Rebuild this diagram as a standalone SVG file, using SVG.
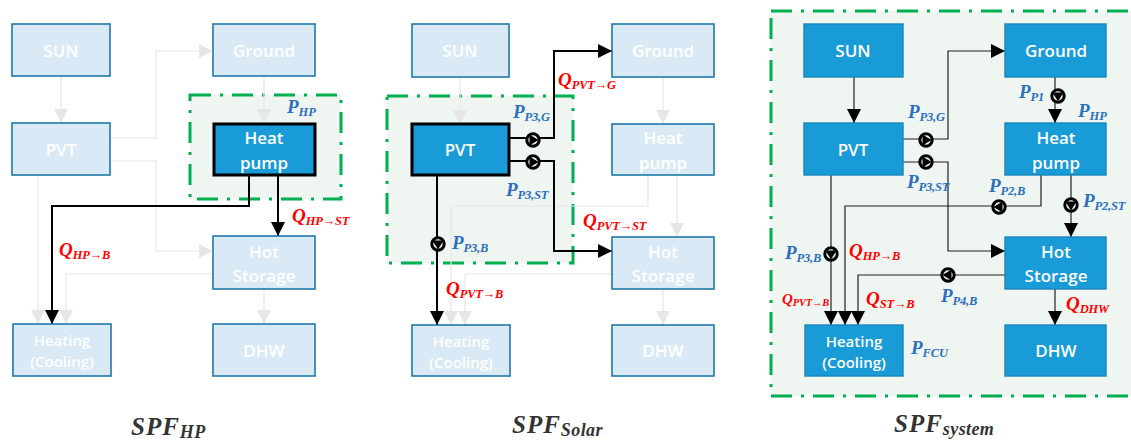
<svg xmlns="http://www.w3.org/2000/svg" width="1131" height="444" viewBox="0 0 1131 444">
<style>
text{font-family:"Open Sans","Noto Sans",sans-serif}
.n text{font-size:17px;font-weight:600;fill:#fff;text-anchor:middle}
.f rect{fill:#d9eaf6;stroke:#1f78a8;stroke-width:1.6}
.a rect{fill:#189bd7;stroke:#1a85bb;stroke-width:1.4}
.k rect{fill:#189bd7;stroke:#000;stroke-width:3}
.zone{fill:#eff5f1;stroke:#00b050;stroke-width:3;stroke-dasharray:21 9 3 9}
.g,.b,.t{fill:none}
.g{stroke:#e6e6e6;stroke-width:1.2;marker-end:url(#mg)}
.b{stroke:#000;stroke-width:2;marker-end:url(#mb)}
.t{stroke:#222;stroke-width:1.2;marker-end:url(#mb)}
.m text{font-family:"Liberation Serif",serif;font-weight:700;font-style:italic}
.p{fill:#2a6fc0;font-size:19px}
.q{fill:#f00;font-size:19px}
.s{font-size:12.5px;letter-spacing:-.2px}
.ttl{fill:#333;font-size:25px;letter-spacing:1px}
.ttl .s{font-size:18px;letter-spacing:.4px}
</style>
<defs>
<marker id="mg" markerUnits="userSpaceOnUse" markerWidth="15" markerHeight="15" refX="14" refY="7.5" orient="auto"><path d="M0 .5L14 7.5L0 14.5Z" fill="#e6e6e6"/></marker>
<marker id="mb" markerUnits="userSpaceOnUse" markerWidth="15" markerHeight="15" refX="14" refY="7.5" orient="auto"><path d="M0 .5L14 7.5L0 14.5Z" fill="#000"/></marker>
<g id="pump"><circle r="6.2" fill="#f2f2f2" stroke="#000" stroke-width="3"/><path d="M-3.5 -5.5L5.5 0L-3.5 5.5Z" fill="#000"/></g>
</defs>

<rect class="zone" x="190" y="95" width="151" height="104"/>
<rect class="zone" x="387" y="96" width="186" height="167"/>
<rect class="zone" x="771" y="11" width="364" height="385"/>

<g id="connectors">
<path class="g" d="M61 76V123"/>
<path class="g" d="M110 138H156V51H213"/>
<path class="g" d="M110 161H156V251H213"/>
<path class="g" d="M38 175V324"/>
<path class="g" d="M213 274H66V324"/>
<path class="g" d="M264 76V123"/>
<path class="g" d="M264 289V324"/>
<path class="b" d="M249 175V206H52V324"/>
<path class="b" d="M278 175V236"/>

<path class="g" d="M460 77V124"/>
<path class="g" d="M663 77V124"/>
<path class="g" d="M677 175V237"/>
<path class="g" d="M648 175V206H451V325"/>
<path class="g" d="M612 274H465V325"/>
<path class="g" d="M663 289V325"/>
<path class="b" d="M509 138H554V51H612"/>
<path class="b" d="M509 161H554V251H612"/>
<path class="b" d="M437 175V325"/>

<path class="t" d="M854 77V123"/>
<path class="t" d="M903 139H948V51H1005"/>
<path class="t" d="M903 162H948V251H1005"/>
<path class="t" d="M831 175V325"/>
<path class="t" d="M1041 175V206H845V325"/>
<path class="t" d="M1071 175V237"/>
<path class="t" d="M1055 77V123"/>
<path class="t" d="M1005 275H858V325"/>
<path class="t" d="M1055 289V325"/>

<use href="#pump" transform="translate(533 140)"/>
<use href="#pump" transform="translate(533 162)"/>
<use href="#pump" transform="translate(438 244) rotate(90)"/>
<use href="#pump" transform="translate(926 140)"/>
<use href="#pump" transform="translate(926 162)"/>
<use href="#pump" transform="translate(1058 96) rotate(90)"/>
<use href="#pump" transform="translate(1071 205) rotate(90)"/>
<use href="#pump" transform="translate(999 207) rotate(180)"/>
<use href="#pump" transform="translate(948 275) rotate(180)"/>
<use href="#pump" transform="translate(831 254) rotate(90)"/>
</g>

<g id="hp-sun" class="n f"><rect x="12" y="24" width="98" height="52"/><text x="61" y="57">SUN</text></g>
<g id="hp-ground" class="n f"><rect x="213" y="24" width="102" height="52"/><text x="264" y="57">Ground</text></g>
<g id="hp-pvt" class="n f"><rect x="12" y="123" width="98" height="52"/><text x="61" y="156">PVT</text></g>
<g id="hp-heatpump" class="n k"><rect x="214" y="124" width="101" height="51"/><text x="264" y="144">Heat</text><text x="264" y="169">pump</text></g>
<g id="hp-storage" class="n f"><rect x="213" y="236" width="102" height="53"/><text x="264" y="258">Hot</text><text x="264" y="282">Storage</text></g>
<g id="hp-heating" class="n f"><rect x="13" y="324" width="98" height="52"/><text x="62" y="346" style="font-size:15px">Heating</text><text x="62" y="367" style="font-size:15px">(Cooling)</text></g>
<g id="hp-dhw" class="n f"><rect x="213" y="324" width="102" height="52"/><text x="264" y="357">DHW</text></g>

<g id="solar-sun" class="n f"><rect x="412" y="24" width="97" height="53"/><text x="460" y="57">SUN</text></g>
<g id="solar-ground" class="n f"><rect x="612" y="24" width="102" height="53"/><text x="663" y="57">Ground</text></g>
<g id="solar-pvt" class="n k"><rect x="412" y="124" width="97" height="51"/><text x="460" y="156">PVT</text></g>
<g id="solar-heatpump" class="n f"><rect x="612" y="124" width="102" height="51"/><text x="663" y="144">Heat</text><text x="663" y="169">pump</text></g>
<g id="solar-storage" class="n f"><rect x="612" y="237" width="102" height="52"/><text x="663" y="258">Hot</text><text x="663" y="282">Storage</text></g>
<g id="solar-heating" class="n f"><rect x="412" y="325" width="98" height="51"/><text x="461" y="347" style="font-size:15px">Heating</text><text x="461" y="368" style="font-size:15px">(Cooling)</text></g>
<g id="solar-dhw" class="n f"><rect x="612" y="325" width="102" height="51"/><text x="663" y="357">DHW</text></g>

<g id="sys-sun" class="n a"><rect x="804" y="24" width="99" height="53"/><text x="853" y="57">SUN</text></g>
<g id="sys-ground" class="n a"><rect x="1005" y="24" width="101" height="53"/><text x="1056" y="57">Ground</text></g>
<g id="sys-pvt" class="n a"><rect x="804" y="123" width="99" height="52"/><text x="853" y="156">PVT</text></g>
<g id="sys-heatpump" class="n a"><rect x="1005" y="123" width="101" height="52"/><text x="1056" y="144">Heat</text><text x="1056" y="169">pump</text></g>
<g id="sys-storage" class="n a"><rect x="1005" y="237" width="101" height="52"/><text x="1056" y="258">Hot</text><text x="1056" y="282">Storage</text></g>
<g id="sys-heating" class="n a"><rect x="805" y="325" width="98" height="51"/><text x="854" y="347" style="font-size:15px">Heating</text><text x="854" y="368" style="font-size:15px">(Cooling)</text></g>
<g id="sys-dhw" class="n a"><rect x="1005" y="325" width="101" height="51"/><text x="1056" y="357">DHW</text></g>

<g id="labels" class="m">
<text class="p" x="287" y="113">P<tspan class="s" dy="3">HP</tspan></text>
<text class="q" x="292" y="222">Q<tspan class="s" dy="3">HP→ST</tspan></text>
<text class="q" x="59" y="256">Q<tspan class="s" dy="3">HP→B</tspan></text>

<text class="q" x="558" y="86">Q<tspan class="s" dy="3">PVT→G</tspan></text>
<text class="p" x="513" y="118">P<tspan class="s" dy="3">P3,G</tspan></text>
<text class="p" x="506" y="196">P<tspan class="s" dy="3">P3,ST</tspan></text>
<text class="q" x="583" y="227">Q<tspan class="s" dy="3">PVT→ST</tspan></text>
<text class="p" x="452" y="249">P<tspan class="s" dy="3">P3,B</tspan></text>
<text class="q" x="446" y="295">Q<tspan class="s" dy="3">PVT→B</tspan></text>

<text class="p" x="908" y="118">P<tspan class="s" dy="3">P3,G</tspan></text>
<text class="p" x="907" y="188">P<tspan class="s" dy="3">P3,ST</tspan></text>
<text class="p" x="1019" y="98">P<tspan class="s" dy="3">P1</tspan></text>
<text class="p" x="1078" y="117">P<tspan class="s" dy="3">HP</tspan></text>
<text class="p" x="989" y="192">P<tspan class="s" dy="3">P2,B</tspan></text>
<text class="p" x="1083" y="207">P<tspan class="s" dy="3">P2,ST</tspan></text>
<text class="p" x="785" y="259">P<tspan class="s" dy="3">P3,B</tspan></text>
<text class="q" x="849" y="257">Q<tspan class="s" dy="3">HP→B</tspan></text>
<text class="q" x="782" y="304" style="font-size:15px">Q<tspan class="s" dy="2" style="font-size:10.5px">PVT→B</tspan></text>
<text class="q" x="866" y="305">Q<tspan class="s" dy="3">ST→B</tspan></text>
<text class="p" x="941" y="302">P<tspan class="s" dy="3">P4,B</tspan></text>
<text class="q" x="1066" y="310">Q<tspan class="s" dy="3">DHW</tspan></text>
<text class="p" x="911" y="354">P<tspan class="s" dy="3">FCU</tspan></text>

<text class="ttl" x="131" y="435">SPF<tspan class="s" dy="3">HP</tspan></text>
<text class="ttl" x="512" y="433">SPF<tspan class="s" dy="3">Solar</tspan></text>
<text class="ttl" x="894" y="432">SPF<tspan class="s" dy="3">system</tspan></text>
</g>
</svg>
